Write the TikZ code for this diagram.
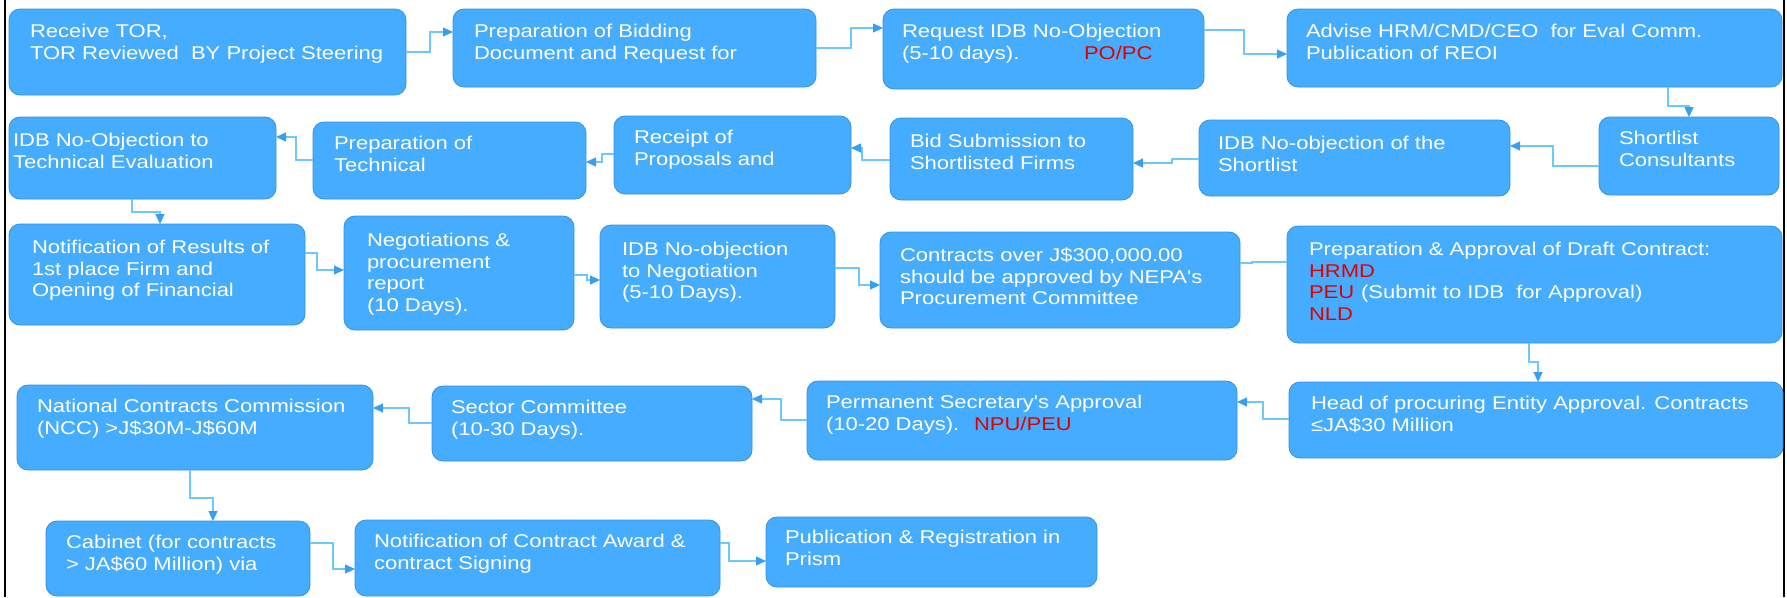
\documentclass[tikz,border=0pt]{standalone}
\usepackage{fontspec}
\setmainfont{Liberation Sans}[FakeStretch=1.19, Ligatures=TeXOff]
\usetikzlibrary{arrows.meta}
\definecolor{boxfill}{RGB}{70,172,255}
\definecolor{boxline}{RGB}{52,145,228}
\definecolor{conncol}{RGB}{110,200,250}
\definecolor{arrcol}{RGB}{55,158,240}
\definecolor{redtxt}{RGB}{225,0,0}
\tikzset{
  box/.style={draw=boxline, line width=0.8pt, fill=boxfill, rounded corners=11pt, inner sep=0pt, outer sep=0pt, anchor=north west},
  txt/.style={anchor=north west, inner sep=0pt, outer sep=0pt, align=left, text=white, font=\fontsize{18.5}{21.5}\selectfont},
  conn/.style={draw=conncol, line width=1.2pt, -{Triangle[length=10pt,width=9pt,color=arrcol]}},
  plainconn/.style={draw=conncol, line width=1.2pt},
}
\newcommand{\st}{\rule{0pt}{15pt}}
\begin{document}
\begin{tikzpicture}[x=1pt,y=-1pt]
\useasboundingbox (0,0) rectangle (1787,597);
% borders
\draw[line width=2.5pt] (5,0) -- (5,597);
\draw[line width=2.5pt] (1784,0) -- (1784,597);
% row 1
\node[box, minimum width=397pt, minimum height=86pt] (A) at (9,9) {};
\node[box, minimum width=363pt, minimum height=78pt] (B) at (453,9) {};
\node[box, minimum width=321pt, minimum height=80pt] (C) at (883,9) {};
\node[box, minimum width=495pt, minimum height=78pt] (D) at (1287,9) {};
% row 2
\node[box, minimum width=267pt, minimum height=82pt] (E) at (9,117) {};
\node[box, minimum width=273pt, minimum height=77pt] (F) at (313,122) {};
\node[box, minimum width=237pt, minimum height=78pt] (G) at (614,116) {};
\node[box, minimum width=243pt, minimum height=82pt] (H) at (890,118) {};
\node[box, minimum width=311pt, minimum height=76pt] (I) at (1199,120) {};
\node[box, minimum width=180pt, minimum height=78pt] (J) at (1599,117) {};
% row 3
\node[box, minimum width=296pt, minimum height=101pt] (K) at (9,224) {};
\node[box, minimum width=230pt, minimum height=114pt] (L) at (344,216) {};
\node[box, minimum width=235pt, minimum height=103pt] (M) at (600,225) {};
\node[box, minimum width=360pt, minimum height=96pt] (N) at (880,232) {};
\node[box, minimum width=495pt, minimum height=117pt] (P) at (1287,226) {};
% row 4
\node[box, minimum width=494pt, minimum height=76pt] (Q) at (1289,382) {};
\node[box, minimum width=430pt, minimum height=79pt] (R) at (807,381) {};
\node[box, minimum width=320pt, minimum height=75pt] (S) at (432,386) {};
\node[box, minimum width=356pt, minimum height=85pt] (T) at (17,385) {};
% row 5
\node[box, minimum width=264pt, minimum height=75pt] (U) at (46,521) {};
\node[box, minimum width=365pt, minimum height=76pt] (V) at (355,520) {};
\node[box, minimum width=331pt, minimum height=70pt] (W) at (766,517) {};
% texts
\node[txt] (At) at (30,22.5) {\st Receive TOR,\\TOR Reviewed\ \ BY Project Steering};
\node[txt] (Bt) at (474,22.5) {\st Preparation of Bidding\\Document and Request for};
\node[txt] (Ct) at (902,22.5) {\st Request IDB No-Objection\\\makebox[182pt][l]{(5-10 days).}\textcolor{redtxt}{PO/PC}};
\node[txt] (Dt) at (1306,22.5) {\st Advise HRM/CMD/CEO\ \ for Eval Comm.\\Publication of REOI};
\node[txt] (Et) at (13,131.5) {\st IDB No-Objection to\\Technical Evaluation};
\node[txt] (Ft) at (334,134.5) {\st Preparation of\\Technical};
\node[txt] (Gt) at (634,128.5) {\st Receipt of\\Proposals and};
\node[txt] (Ht) at (910,132.5) {\st Bid Submission to\\Shortlisted Firms};
\node[txt] (It) at (1218,134.5) {\st IDB No-objection of the\\Shortlist};
\node[txt] (Jt) at (1619,129.5) {\st Shortlist\\Consultants};
\node[txt] (Kt) at (32,238.5) {\st Notification of Results of\\1st place Firm and\\Opening of Financial};
\node[txt] (Lt) at (367,231.5) {\st Negotiations \&\\procurement\\report\\(10 Days).};
\node[txt] (Mt) at (622,240.5) {\st IDB No-objection\\to Negotiation\\(5-10 Days).};
\node[txt] (Nt) at (900,246.5) {\st Contracts over J\$300,000.00\\should be approved by NEPA's\\Procurement Committee};
\node[txt] (Pt) at (1309,240.5) {\st Preparation \& Approval of Draft Contract:\\\textcolor{redtxt}{HRMD}\\\makebox[52pt][l]{\textcolor{redtxt}{PEU}}(Submit to IDB\ \ for Approval)\\\textcolor{redtxt}{NLD}};
\node[txt] (Qt) at (1311,394.5) {\st Head of procuring Entity Approval. Contracts\\≤JA\$30 Million};
\node[txt] (Rt) at (826,393.5) {\st Permanent Secretary's Approval\\\makebox[148pt][l]{(10-20 Days).}\textcolor{redtxt}{NPU/PEU}};
\node[txt] (St) at (451,398.5) {\st Sector Committee\\(10-30 Days).};
\node[txt] (Tt) at (37,397.5) {\st National Contracts Commission\\(NCC) >J\$30M-J\$60M};
\node[txt] (Ut) at (66,533.5) {\st Cabinet (for contracts\\> JA\$60 Million) via};
\node[txt] (Vt) at (374,532.5) {\st Notification of Contract Award \&\\contract Signing};
\node[txt] (Wt) at (785,528.5) {\st Publication \& Registration in\\Prism};
% connectors
\draw[conn] (A.east |- 0,52) -- (430,52) -- (430,32) -- (B.west |- 0,32);
\draw[conn] (B.east |- 0,48) -- (851,48) -- (851,28) -- (C.west |- 0,28);
\draw[conn] (C.east |- 0,30) -- (1244,30) -- (1244,54) -- (D.west |- 0,54);
\draw[conn] (D.south -| 1668,0) -- (1668,106) -- (1689,106) -- (J.north -| 1689,0);
\draw[conn] (J.west |- 0,166) -- (1553,166) -- (1553,146) -- (I.east |- 0,146);
\draw[conn] (I.west |- 0,159) -- (1172,159) -- (1172,163) -- (H.east |- 0,163);
\draw[conn] (H.west |- 0,160) -- (862,160) -- (862,148) -- (G.east |- 0,148);
\draw[conn] (G.west |- 0,154) -- (602,154) -- (602,162) -- (F.east |- 0,162);
\draw[conn] (F.west |- 0,160) -- (296,160) -- (296,137) -- (E.east |- 0,137);
\draw[conn] (E.south -| 132,0) -- (132,212) -- (160,212) -- (K.north -| 160,0);
\draw[conn] (K.east |- 0,253) -- (317,253) -- (317,270) -- (L.west |- 0,270);
\draw[conn] (L.east |- 0,275) -- (587,275) -- (587,280) -- (M.west |- 0,280);
\draw[conn] (M.east |- 0,268) -- (859,268) -- (859,285) -- (N.west |- 0,285);
\draw[plainconn] (N.east |- 0,263) -- (1252,263) -- (1252,262) -- (P.west |- 0,262);
\draw[conn] (P.south -| 1529,0) -- (1529,362) -- (1538,362) -- (Q.north -| 1538,0);
\draw[conn] (Q.west |- 0,419) -- (1263,419) -- (1263,402) -- (R.east |- 0,402);
\draw[conn] (R.west |- 0,420) -- (781,420) -- (781,399) -- (S.east |- 0,399);
\draw[conn] (S.west |- 0,423) -- (409,423) -- (409,408) -- (T.east |- 0,408);
\draw[conn] (T.south -| 190,0) -- (190,498) -- (213,498) -- (U.north -| 213,0);
\draw[conn] (U.east |- 0,543) -- (333,543) -- (333,569) -- (V.west |- 0,569);
\draw[conn] (V.east |- 0,543) -- (729,543) -- (729,561) -- (W.west |- 0,561);
\end{tikzpicture}
\end{document}
